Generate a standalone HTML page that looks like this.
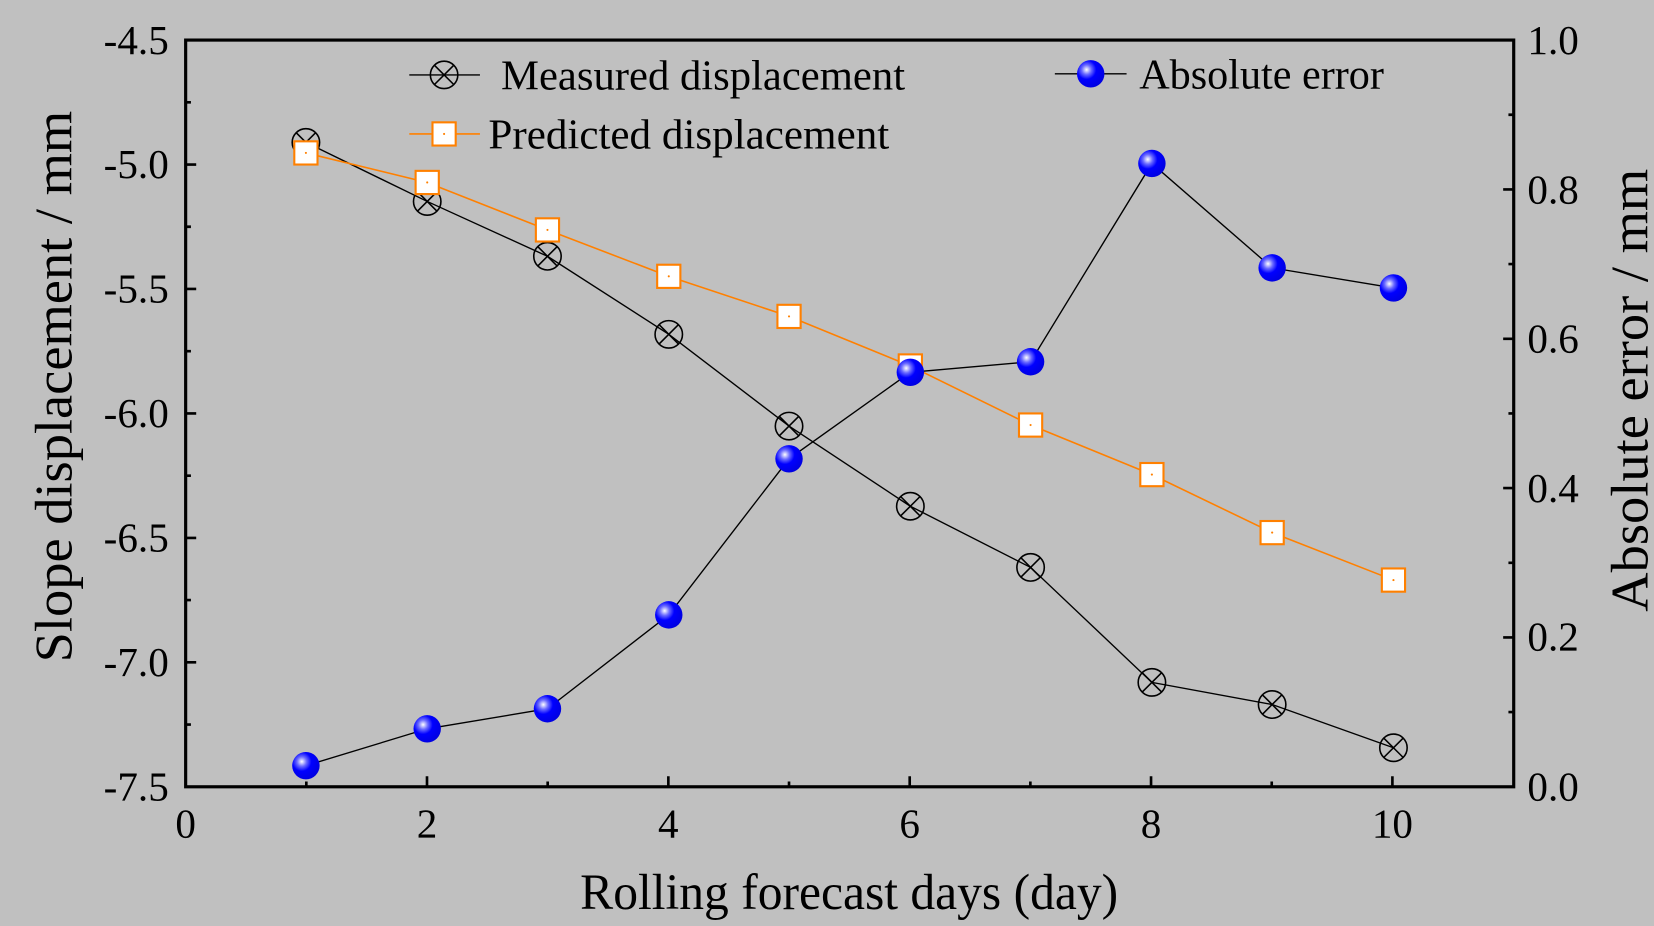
<!DOCTYPE html>
<html><head><style>html,body{margin:0;padding:0;background:#c0c0c0;}svg{display:block}</style></head>
<body>
<svg width="1654" height="926" viewBox="0 0 1568 878" preserveAspectRatio="none" xmlns="http://www.w3.org/2000/svg" font-family="Liberation Serif, serif">
<defs>
<radialGradient id="g" cx="0.35" cy="0.35" r="0.7">
<stop offset="0" stop-color="#ffffff"/><stop offset="0.25" stop-color="#6a6aff"/><stop offset="0.5" stop-color="#0000ff"/><stop offset="1" stop-color="#0000e0"/>
</radialGradient>
<g id="mc"><circle r="13" fill="none" stroke="#000" stroke-width="1.5"/><path d="M-9,-9L9,9M-9,9L9,-9" stroke="#000" stroke-width="1.5"/></g>
<g id="ps"><rect x="-11" y="-11" width="22" height="22" fill="#fff" stroke="#ff8000" stroke-width="2"/><circle r="1" fill="#ff8000"/></g>
<g id="bs"><circle r="13" fill="url(#g)"/></g>
</defs>
<rect width="1568" height="878" fill="#c0c0c0"/>
<rect x="176" y="38" width="1259" height="708" fill="none" stroke="#000" stroke-width="3"/>
<g stroke="#000" stroke-width="2.5">
<path d="M176,38h10M176,156h10M176,274h10M176,392h10M176,510h10M176,628h10"/>
<path d="M176,97h5M176,215h5M176,333h5M176,451h5M176,569h5M176,687h5"/>
<path d="M1435,38h-10M1435,179.6h-10M1435,321.2h-10M1435,462.8h-10M1435,604.4h-10"/>
<path d="M1435,108.8h-5M1435,250.4h-5M1435,392h-5M1435,533.6h-5M1435,675.2h-5"/>
<path d="M404.8,746v-10M633.6,746v-10M862.4,746v-10M1091.2,746v-10M1320,746v-10"/>
<path d="M290.4,746v-5M519.2,746v-5M748,746v-5M976.8,746v-5M1205.6,746v-5"/>
</g>
<g font-size="39" fill="#000" text-anchor="end">
<text x="160" y="51">-4.5</text><text x="160" y="169">-5.0</text><text x="160" y="287">-5.5</text><text x="160" y="405">-6.0</text><text x="160" y="523">-6.5</text><text x="160" y="641">-7.0</text><text x="160" y="759">-7.5</text>
</g>
<g font-size="39" fill="#000" text-anchor="start">
<text x="1448" y="51">1.0</text><text x="1448" y="193">0.8</text><text x="1448" y="334">0.6</text><text x="1448" y="476">0.4</text><text x="1448" y="617">0.2</text><text x="1448" y="759">0.0</text>
</g>
<g font-size="39" fill="#000" text-anchor="middle">
<text x="176" y="794">0</text><text x="404.8" y="794">2</text><text x="633.6" y="794">4</text><text x="862.4" y="794">6</text><text x="1091.2" y="794">8</text><text x="1320" y="794">10</text>
</g>
<text x="550" y="862" font-size="48" textLength="510" lengthAdjust="spacingAndGlyphs">Rolling forecast days (day)</text>
<text transform="translate(68,628) rotate(-90)" font-size="50" textLength="523" lengthAdjust="spacingAndGlyphs">Slope displacement / mm</text>
<text transform="translate(1562,580) rotate(-90)" font-size="50" textLength="420" lengthAdjust="spacingAndGlyphs">Absolute error / mm</text>
<polyline fill="none" stroke="#000" stroke-width="1.3" points="290,135 405,191 519,243 634,317 748,404 863,480 977,538 1092,647 1206,668 1321,709"/>
<polyline fill="none" stroke="#ff8000" stroke-width="1.5" points="290,145 405,173 519,218 634,262 748,300 863,347 977,403 1092,450 1206,505 1321,550"/>
<polyline fill="none" stroke="#000" stroke-width="1.3" points="290,726 405,691 519,672 634,583 748,435 863,353 977,343 1092,155 1206,254 1321,273"/>
<g>
<use href="#mc" x="290" y="135"/><use href="#mc" x="405" y="191"/><use href="#mc" x="519" y="243"/><use href="#mc" x="634" y="317"/><use href="#mc" x="748" y="404"/><use href="#mc" x="863" y="480"/><use href="#mc" x="977" y="538"/><use href="#mc" x="1092" y="647"/><use href="#mc" x="1206" y="668"/><use href="#mc" x="1321" y="709"/>
<use href="#ps" x="290" y="145"/><use href="#ps" x="405" y="173"/><use href="#ps" x="519" y="218"/><use href="#ps" x="634" y="262"/><use href="#ps" x="748" y="300"/><use href="#ps" x="863" y="347"/><use href="#ps" x="977" y="403"/><use href="#ps" x="1092" y="450"/><use href="#ps" x="1206" y="505"/><use href="#ps" x="1321" y="550"/>
<use href="#bs" x="290" y="726"/><use href="#bs" x="405" y="691"/><use href="#bs" x="519" y="672"/><use href="#bs" x="634" y="583"/><use href="#bs" x="748" y="435"/><use href="#bs" x="863" y="353"/><use href="#bs" x="977" y="343"/><use href="#bs" x="1092" y="155"/><use href="#bs" x="1206" y="254"/><use href="#bs" x="1321" y="273"/>
</g>
<path d="M388,71h67" stroke="#000" stroke-width="1.3"/><use href="#mc" x="421" y="71"/>
<text x="475" y="85" font-size="40" textLength="383" lengthAdjust="spacingAndGlyphs">Measured displacement</text>
<path d="M388,127h67" stroke="#ff8000" stroke-width="1.5"/><use href="#ps" x="421" y="127"/>
<text x="463" y="141" font-size="40" textLength="380" lengthAdjust="spacingAndGlyphs">Predicted displacement</text>
<path d="M1000,70h68" stroke="#000" stroke-width="1.3"/><use href="#bs" x="1034" y="70"/>
<text x="1080" y="84" font-size="40" textLength="232" lengthAdjust="spacingAndGlyphs">Absolute error</text>
</svg>
</body></html>
